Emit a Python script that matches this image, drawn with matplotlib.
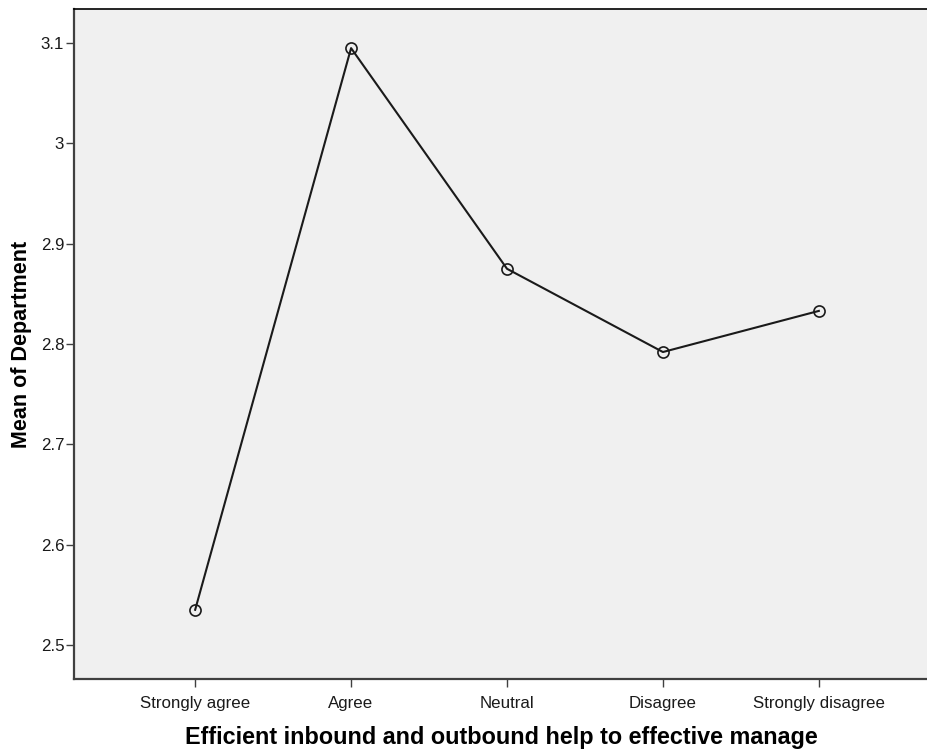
import matplotlib
matplotlib.use('Agg')
import matplotlib.pyplot as plt

categories = ['Strongly agree', 'Agree', 'Neutral', 'Disagree', 'Strongly disagree']
means = [2.535, 3.095, 2.875, 2.792, 2.833]
y_ticks = [2.5, 2.6, 2.7, 2.8, 2.9, 3.0, 3.1]
y_tick_labels = ['2.5', '2.6', '2.7', '2.8', '2.9', '3', '3.1']

plt.rcParams['font.family'] = ['Liberation Sans', 'DejaVu Sans']

fig = plt.figure(figsize=(9.28, 7.53), dpi=100)
ax = fig.add_axes([74 / 928, 74 / 753, 1 - 74 / 928, 670 / 753])
ax.set_facecolor('#f0f0f0')

x = range(len(categories))
ax.plot(x, means, color='#1a1a1a', linewidth=1.5, marker='o', markersize=8,
        markerfacecolor='none', markeredgecolor='#1a1a1a', markeredgewidth=1.2)

ax.set_xlim(-0.777, 4.70)
ax.set_ylim(2.466, 3.134)
ax.set_xticks(list(x))
ax.set_xticklabels(categories)
ax.set_yticks(y_ticks)
ax.set_yticklabels(y_tick_labels)

for side in ['left', 'bottom']:
    ax.spines[side].set_color('#404040')
    ax.spines[side].set_linewidth(1.6)
ax.spines['top'].set_color('#000000')
ax.spines['top'].set_linewidth(1.2)
ax.spines['right'].set_visible(False)

ax.tick_params(axis='both', direction='out', length=6, width=1, color='#404040',
               labelsize=12.2, labelcolor='#1a1a1a')
ax.tick_params(axis='x', pad=6)
ax.tick_params(axis='y', pad=1)

ax.set_xlabel('Efficient inbound and outbound help to effective manage',
              fontsize=16.8, fontweight='bold', labelpad=11)
ax.set_ylabel('Mean of Department', fontsize=15.5, fontweight='bold', labelpad=6)

fig.savefig('out.png', dpi=100)
